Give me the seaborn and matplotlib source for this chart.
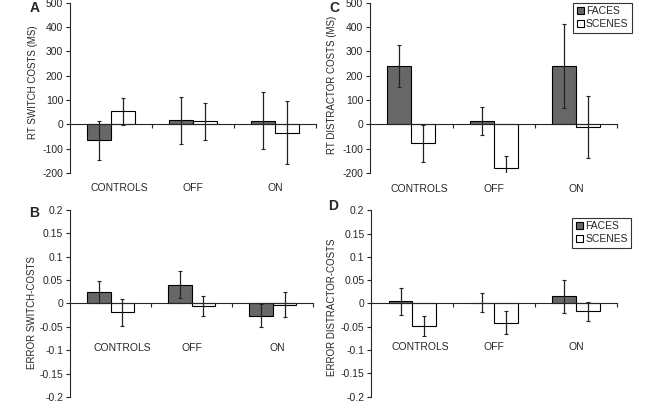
import pandas as pd
import numpy as np
import matplotlib
matplotlib.use('Agg')
import matplotlib.pyplot as plt
import seaborn as sns

groups = ['CONTROLS', 'OFF', 'ON']
stimuli = ['FACES', 'SCENES']

# panel A: RT switch costs (ms)
rt_switch_faces = [-65, 17, 15]
rt_switch_faces_err = [80, 97, 118]
rt_switch_scenes = [53, 12, -35]
rt_switch_scenes_err = [57, 76, 130]

# panel C: RT distractor costs (ms)
rt_dist_faces = [239, 15, 240]
rt_dist_faces_err = [87, 57, 173]
rt_dist_scenes = [-79, -181, -11]
rt_dist_scenes_err = [75, 50, 128]

# panel B: error switch-costs
err_switch_faces = [0.024, 0.040, -0.026]
err_switch_faces_err = [0.024, 0.029, 0.025]
err_switch_scenes = [-0.019, -0.005, -0.003]
err_switch_scenes_err = [0.029, 0.021, 0.027]

# panel D: error distractor-costs
err_dist_faces = [0.005, 0.002, 0.015]
err_dist_faces_err = [0.029, 0.021, 0.036]
err_dist_scenes = [-0.049, -0.041, -0.017]
err_dist_scenes_err = [0.021, 0.025, 0.021]

sns.set_style('ticks')
plt.rcParams['font.family'] = ['Liberation Sans', 'DejaVu Sans']
plt.rcParams['font.size'] = 7.5

palette = {'FACES': '#676767', 'SCENES': '#ffffff'}


def make_frame(faces, faces_err, scenes, scenes_err):
    rows = []
    for i, g in enumerate(groups):
        rows.append({'group': g, 'stim': 'FACES', 'value': faces[i], 'err': faces_err[i]})
        rows.append({'group': g, 'stim': 'SCENES', 'value': scenes[i], 'err': scenes_err[i]})
    return pd.DataFrame(rows)


def draw_panel(ax, data, ylim, yticks, ticklabels, ylabel, label_y, label_shift, legend_anchor=None):
    sns.barplot(data=data, x='group', y='value', hue='stim', hue_order=stimuli,
                palette=palette, edgecolor='black', linewidth=0.8, width=0.58,
                errorbar=None, legend=legend_anchor is not None, ax=ax)
    for cont, stim in zip(ax.containers, stimuli):
        sub = data[data['stim'] == stim]
        xs = [b.get_x() + b.get_width() / 2 for b in cont]
        ax.errorbar(xs, sub['value'], yerr=sub['err'], fmt='none', ecolor='#222222',
                    elinewidth=0.9, capsize=1.6, capthick=0.8)
    ax.set_ylim(*ylim)
    ax.set_xlim(-0.5, 2.5)
    ax.set_yticks(yticks)
    ax.set_yticklabels(ticklabels)
    ax.set_xticks([0.5, 1.5, 2.5])
    ax.set_xticklabels([])
    ax.tick_params(axis='x', direction='out', length=3, width=0.8)
    ax.tick_params(axis='y', direction='out', length=3, width=0.8, pad=2, labelsize=7.5)
    for s in ['top', 'right']:
        ax.spines[s].set_visible(False)
    ax.spines['bottom'].set_position(('data', 0))
    ax.spines['bottom'].set_linewidth(0.8)
    ax.spines['left'].set_linewidth(0.8)
    ax.set_xlabel('')
    ax.set_ylabel(ylabel, fontsize=7)
    for i, g in enumerate(groups):
        ax.text(i + label_shift[i], label_y, g, ha='center', va='center', fontsize=7.5, clip_on=False)
    if legend_anchor is not None:
        leg = ax.legend(loc='upper right', bbox_to_anchor=legend_anchor, frameon=True,
                        fancybox=False, edgecolor='black', fontsize=7.5, handlelength=0.7,
                        handleheight=0.7, handletextpad=0.2, borderpad=0.35,
                        labelspacing=0.25, borderaxespad=0)
        leg.get_frame().set_linewidth(0.8)


fig = plt.figure(figsize=(6.61, 4.03), dpi=100)
axA = fig.add_axes([0.106, 0.571, 0.372, 0.422])
axC = fig.add_axes([0.560, 0.571, 0.374, 0.422])
axB = fig.add_axes([0.106, 0.015, 0.368, 0.464])
axD = fig.add_axes([0.562, 0.016, 0.371, 0.462])

rt_ticks = [-200, -100, 0, 100, 200, 300, 400, 500]
rt_labels = [str(t) for t in rt_ticks]
err_ticks = [-0.2, -0.15, -0.1, -0.05, 0, 0.05, 0.1, 0.15, 0.2]
err_labels = ['-0.2', '-0.15', '-0.1', '-0.05', '0', '0.05', '0.1', '0.15', '0.2']
shift = [0.1, 0, 0]

draw_panel(axA, make_frame(rt_switch_faces, rt_switch_faces_err, rt_switch_scenes, rt_switch_scenes_err),
           (-200, 500), rt_ticks, rt_labels, 'RT SWITCH COSTS (MS)', -262, shift)
draw_panel(axC, make_frame(rt_dist_faces, rt_dist_faces_err, rt_dist_scenes, rt_dist_scenes_err),
           (-200, 500), rt_ticks, rt_labels, 'RT DISTRACTOR COSTS (MS)', -266, shift,
           legend_anchor=(1.06, 1.0))
draw_panel(axB, make_frame(err_switch_faces, err_switch_faces_err, err_switch_scenes, err_switch_scenes_err),
           (-0.2, 0.2), err_ticks, err_labels, 'ERROR SWITCH-COSTS', -0.095, [0.15, 0, 0.05])
draw_panel(axD, make_frame(err_dist_faces, err_dist_faces_err, err_dist_scenes, err_dist_scenes_err),
           (-0.2, 0.2), err_ticks, err_labels, 'ERROR DISTRACTOR-COSTS', -0.093, shift,
           legend_anchor=(1.06, 0.96))

axA.yaxis.set_label_coords(-0.130, 0.535)
axC.yaxis.set_label_coords(-0.134, 0.52)
axB.yaxis.set_label_coords(-0.136, 0.45)
axD.yaxis.set_label_coords(-0.141, 0.48)

for x, y, t in [(35, 8, 'A'), (334, 8, 'C'), (34, 213, 'B'), (333, 206, 'D')]:
    fig.text(x / 661, 1 - y / 403, t, ha='center', va='center', fontsize=10, fontweight='bold')

fig.savefig('out.png', dpi=100)
